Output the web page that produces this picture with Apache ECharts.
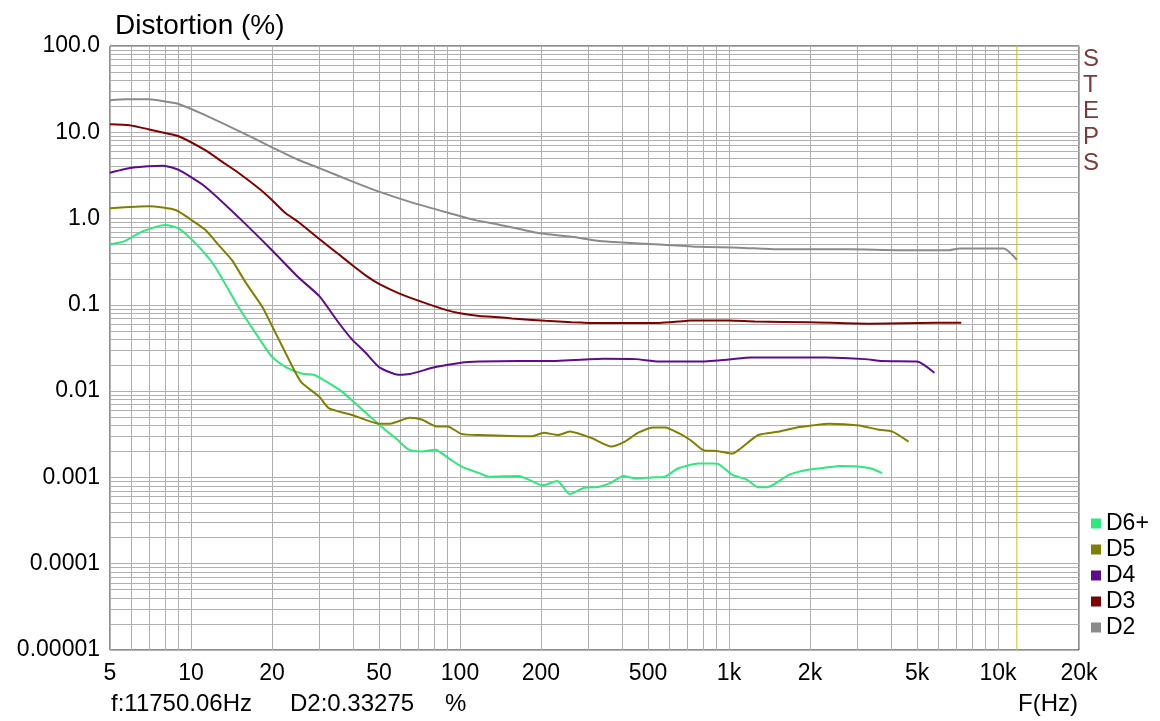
<!DOCTYPE html>
<html>
<head>
<meta charset="utf-8">
<title>Distortion (%)</title>
<script src="https://cdn.jsdelivr.net/npm/echarts@6/dist/echarts.min.js"></script>
<style>
  html, body { margin: 0; padding: 0; background: #fff; }
  #chart { width: 1160px; height: 721px; }
</style>
</head>
<body>
<div id="chart"></div>
<script>
// frequency (Hz) / distortion (%)
var d2Freq = [5, 5.7, 7, 8, 9, 11.3, 15.5, 20, 25, 30, 39.7, 50, 66, 91, 114, 140, 196, 275, 330, 390, 550, 770, 1090, 1540, 1830, 2800, 4300, 6600, 7200, 10500, 11750];
var d2Vals = [23.5, 24.2, 24.2, 22.8, 21.3, 15.8, 9.9, 6.7, 4.8, 3.85, 2.7, 2.05, 1.54, 1.16, 0.96, 0.85, 0.68, 0.6, 0.55, 0.53, 0.5, 0.47, 0.46, 0.44, 0.44, 0.44, 0.43, 0.43, 0.45, 0.45, 0.333];

var d3Freq = [5, 5.9, 7, 8, 9, 11.3, 13, 15, 18, 20, 22.5, 25, 30, 35.6, 39.7, 45, 50, 59, 70, 88, 100, 118, 140, 156, 208, 260, 330, 550, 650, 720, 1000, 1250, 2000, 3350, 5900, 7300];
var d3Vals = [12.4, 12.1, 10.8, 9.8, 9.0, 6.2, 4.6, 3.4, 2.2, 1.64, 1.15, 0.92, 0.58, 0.38, 0.29, 0.215, 0.175, 0.137, 0.112, 0.088, 0.08, 0.0743, 0.0718, 0.0695, 0.0655, 0.063, 0.0616, 0.0616, 0.064, 0.066, 0.066, 0.064, 0.063, 0.0606, 0.062, 0.062];

var d4Freq = [5, 6.1, 7.9, 9, 11.3, 15, 20, 25, 30, 35, 39.6, 44.5, 50, 59, 65, 81, 101, 118, 165, 208, 290, 340, 450, 550, 770, 1000, 1210, 2300, 3200, 3700, 5000, 5800];
var d4Vals = [3.4, 3.9, 4.1, 3.66, 2.34, 1.04, 0.43, 0.21, 0.126, 0.065, 0.04, 0.028, 0.019, 0.0155, 0.0158, 0.019, 0.0214, 0.022, 0.0223, 0.0223, 0.0233, 0.0238, 0.0235, 0.022, 0.022, 0.0233, 0.0245, 0.0245, 0.0235, 0.0223, 0.022, 0.0163];

var d5Freq = [5, 7, 8.8, 10, 11.3, 12.7, 14.2, 16, 18.4, 20.5, 22.5, 25.6, 30, 32.6, 39.7, 50, 55, 65, 72, 82, 90, 101, 118, 185, 205, 232, 256, 310, 365, 410, 460, 525, 580, 645, 720, 810, 900, 1030, 1090, 1285, 1540, 1790, 2030, 2360, 3050, 3560, 4050, 4650];
var d5Vals = [1.32, 1.39, 1.25, 0.97, 0.74, 0.49, 0.33, 0.18, 0.095, 0.049, 0.0275, 0.0129, 0.0086, 0.0063, 0.0053, 0.0042, 0.0042, 0.0049, 0.0047, 0.0039, 0.0039, 0.0032, 0.0031, 0.003, 0.0033, 0.0031, 0.0034, 0.00284, 0.00228, 0.0026, 0.0033, 0.0038, 0.0038, 0.0033, 0.0027, 0.00205, 0.00203, 0.00189, 0.0021, 0.0031, 0.0034, 0.0038, 0.004, 0.0042, 0.004, 0.0036, 0.0034, 0.0026];

var d6Freq = [5, 5.6, 6.6, 8, 9, 10.7, 12.3, 15, 18, 20, 22.5, 26, 28.6, 32, 36.5, 44.7, 51.5, 58, 64.5, 72, 81, 90, 101, 118, 128, 165, 203, 230, 256, 290, 330, 365, 405, 450, 515, 578, 645, 770, 870, 915, 1030, 1160, 1285, 1410, 1670, 1940, 2300, 2580, 2930, 3350, 3710];
var d6Vals = [0.504, 0.54, 0.71, 0.84, 0.77, 0.47, 0.275, 0.095, 0.04, 0.025, 0.019, 0.0159, 0.0155, 0.0128, 0.0098, 0.0056, 0.0038, 0.0028, 0.0021, 0.002, 0.0021, 0.0017, 0.00134, 0.00112, 0.00102, 0.00104, 0.00081, 0.00091, 0.00064, 0.00076, 0.00078, 0.00087, 0.00104, 0.00097, 0.001, 0.00102, 0.00127, 0.00145, 0.00145, 0.00143, 0.00107, 0.00095, 0.00077, 0.00078, 0.00107, 0.00122, 0.0013, 0.00136, 0.00135, 0.00128, 0.00112];

// axis ticks / labels
var xLabelVals = [5, 10, 20, 50, 100, 200, 500, 1000, 2000, 5000, 10000, 20000];
var xLabelText = ['5', '10', '20', '50', '100', '200', '500', '1k', '2k', '5k', '10k', '20k'];
var yLabelVals = [0.00001, 0.0001, 0.001, 0.01, 0.1, 1, 10, 100];
var yLabelText = ['0.00001', '0.0001', '0.001', '0.01', '0.1', '1.0', '10.0', '100.0'];
var cursorFreq = 11750.06;

// log grid: 1..9 in each decade
function logGrid(lo, hi) {
  var out = [];
  for (var d = -6; d <= 5; d++) {
    for (var m = 1; m <= 9; m++) {
      var v = +(m * Math.pow(10, d)).toPrecision(6);
      if (v >= lo && v <= hi) out.push(v);
    }
  }
  return out;
}

function zip(f, v) {
  return f.map(function (x, i) { return [x, v[i]]; });
}

var chart = echarts.init(document.getElementById('chart'));
var font = 'Liberation Sans, Arial, sans-serif';

function lineSeries(name, color, f, v) {
  return {
    name: name,
    type: 'line',
    data: zip(f, v),
    showSymbol: false,
    smooth: 0.2,
    animation: false,
    lineStyle: { color: color, width: 2 },
    itemStyle: { color: color }
  };
}

chart.setOption({
  backgroundColor: '#fff',
  animation: false,
  title: {
    text: 'Distortion (%)',
    left: 110,
    top: 7,
    textStyle: { fontSize: 28, fontWeight: 'normal', color: '#000', fontFamily: font }
  },
  grid: {
    left: 110, right: 81, top: 46, bottom: 71,
    show: true, borderColor: '#222', borderWidth: 1
  },
  legend: {
    orient: 'vertical',
    left: 1086,
    top: 507,
    icon: 'rect',
    itemWidth: 10,
    itemHeight: 10,
    itemGap: 3,
    data: ['D6+', 'D5', 'D4', 'D3', 'D2'],
    textStyle: { fontSize: 23, lineHeight: 22, color: '#000', fontFamily: font, padding: [0, 0, 0, 0] }
  },
  xAxis: {
    type: 'log',
    logBase: 10,
    min: 5,
    max: 20000,
    axisLine: { show: false },
    axisTick: { show: false, customValues: logGrid(5, 20000) },
    splitLine: { show: true, lineStyle: { color: '#b0b0b0', width: 1 } },
    axisLabel: {
      customValues: xLabelVals,
      margin: 12,
      fontSize: 23,
      color: '#000',
      fontFamily: font,
      formatter: function (v) {
        var i = xLabelVals.indexOf(+v);
        return i >= 0 ? xLabelText[i] : '';
      }
    }
  },
  yAxis: {
    type: 'log',
    logBase: 10,
    min: 0.00001,
    max: 100,
    axisLine: { show: false },
    axisTick: { show: false, customValues: logGrid(0.00001, 100) },
    splitLine: { show: true, lineStyle: { color: '#b0b0b0', width: 1 } },
    axisLabel: {
      customValues: yLabelVals,
      margin: 10,
      fontSize: 23,
      color: '#000',
      fontFamily: font,
      formatter: function (v) {
        for (var i = 0; i < yLabelVals.length; i++) {
          if (Math.abs(Math.log10(v) - Math.log10(yLabelVals[i])) < 1e-6) return yLabelText[i];
        }
        return '';
      }
    }
  },
  graphic: [
    {
      type: 'text', left: 1083, top: 46,
      style: { text: 'S\nT\nE\nP\nS', fontSize: 24, lineHeight: 26, fill: '#7a3a3a', fontFamily: font, align: 'center' }
    },
    {
      type: 'text', left: 111, top: 692,
      style: { text: 'f:11750.06Hz', fontSize: 24, fill: '#000', fontFamily: font }
    },
    {
      type: 'text', left: 290, top: 692,
      style: { text: 'D2:0.33275', fontSize: 24, fill: '#000', fontFamily: font }
    },
    {
      type: 'text', left: 445, top: 692,
      style: { text: '%', fontSize: 24, fill: '#000', fontFamily: font }
    },
    {
      type: 'text', left: 1018, top: 692,
      style: { text: 'F(Hz)', fontSize: 24, fill: '#000', fontFamily: font }
    }
  ],
  series: [
    lineSeries('D6+', '#2ee87c', d6Freq, d6Vals),
    lineSeries('D5', '#808000', d5Freq, d5Vals),
    lineSeries('D4', '#5c0c8c', d4Freq, d4Vals),
    lineSeries('D3', '#800000', d3Freq, d3Vals),
    lineSeries('D2', '#8a8a8a', d2Freq, d2Vals),
    {
      name: 'cursor',
      type: 'line',
      data: [[cursorFreq, 0.00001], [cursorFreq, 100]],
      showSymbol: false,
      silent: true,
      animation: false,
      z: 1,
      lineStyle: { color: '#c8c800', width: 1 }
    }
  ]
});
</script>
</body>
</html>
